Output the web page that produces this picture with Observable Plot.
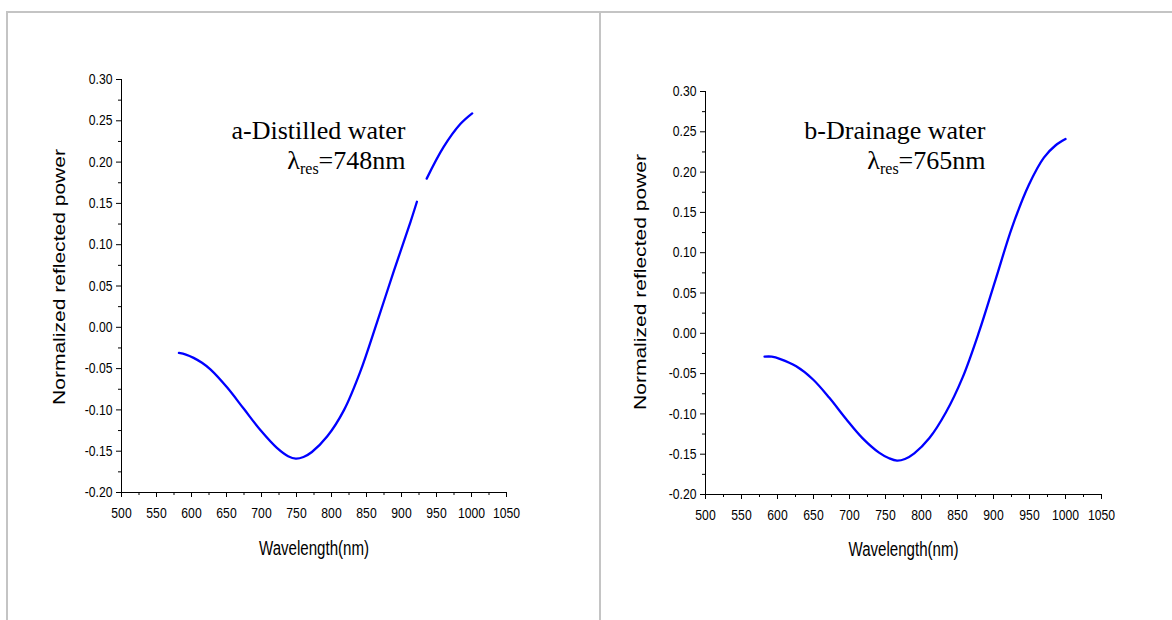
<!DOCTYPE html>
<html>
<head>
<meta charset="utf-8">
<script src="https://cdn.jsdelivr.net/npm/d3@7"></script>
<script src="https://cdn.jsdelivr.net/npm/@observablehq/plot@0.6"></script>
<style>
html, body { margin: 0; padding: 0; background: #fff; }
#wrap { position: relative; width: 1172px; height: 620px; overflow: hidden; background: #fff; }
.panel { position: absolute; top: 0; }
.rule { position: absolute; background: #c4c4c4; z-index: 5; }
</style>
</head>
<body>
<div id="wrap">
  <div id="pa" class="panel" style="left:0px"></div>
  <div id="pb" class="panel" style="left:600px"></div>
  <div class="rule" style="left:6px; top:11px; width:1166px; height:2px;"></div>
  <div class="rule" style="left:6px; top:11px; width:2px; height:609px;"></div>
  <div class="rule" style="left:599px; top:11px; width:2px; height:609px;"></div>
</div>
<script>
// ---- data ----
const wavelengthA = [582, 592, 603, 615, 627, 651, 675, 699, 722, 738, 749, 760, 772, 794, 818, 841, 865, 889, 913, 922, 929, 936, 960, 984, 1001];
const powerA      = [-0.031, -0.033, -0.037, -0.043, -0.051, -0.073, -0.099, -0.125, -0.146, -0.156, -0.159, -0.157, -0.151, -0.132, -0.100, -0.054, 0.006, 0.068, 0.128, 0.152, null, 0.180, 0.218, 0.246, 0.259];

const wavelengthB = [582, 592, 604, 626, 649, 672, 695, 718, 741, 755, 766, 777, 790, 811, 834, 857, 880, 903, 926, 949, 970, 986, 1000];
const powerB      = [-0.029, -0.029, -0.032, -0.041, -0.057, -0.080, -0.106, -0.130, -0.148, -0.155, -0.158, -0.156, -0.149, -0.130, -0.098, -0.055, 0.002, 0.067, 0.132, 0.184, 0.218, 0.233, 0.241];

const xTicks      = [500, 550, 600, 650, 700, 750, 800, 850, 900, 950, 1000, 1050];
const xMinorTicks = [525, 575, 625, 675, 725, 775, 825, 875, 925, 975, 1025];
const yTicks      = [-0.20, -0.15, -0.10, -0.05, 0.00, 0.05, 0.10, 0.15, 0.20, 0.25, 0.30];
const yMinorTicks = [-0.175, -0.125, -0.075, -0.025, 0.025, 0.075, 0.125, 0.175, 0.225, 0.275];

const xLabel = "Wavelength(nm)";
const yLabel = "Normalized reflected power";
const sampleNames = ["a-Distilled water", "b-Drainage water"];
const resonances = [748, 765];
const lambdaSymbol = "λ";
const lambdaSub = "res";

const xDomain = [500, 1050];
const yDomain = [-0.20, 0.30];

function panel(cfg) {
  const data = cfg.xs.map((x, i) => ({x, y: cfg.ys[i]}));
  const resText = `${lambdaSymbol}${lambdaSub}=${cfg.res}nm`;
  return Plot.plot({
    width: cfg.width,
    height: 600,
    marginLeft: cfg.ml,
    marginRight: cfg.mr,
    marginTop: cfg.mt,
    marginBottom: cfg.mb,
    style: {background: "transparent", color: "#000", fontFamily: "'Liberation Sans', Arial, sans-serif", overflow: "visible"},
    x: {domain: xDomain, label: null},
    y: {domain: yDomain, label: null},
    marks: [
      Plot.axisX({ticks: xTicks, tickSize: 5, tickPadding: 10, fontSize: 14.5, tickFormat: d => String(d), label: null}),
      Plot.axisX({ticks: xMinorTicks, tickSize: 3, tickFormat: () => "", label: null}),
      Plot.axisY({ticks: yTicks, tickSize: 5, tickPadding: 4, fontSize: 14.5, tickFormat: d => d.toFixed(2), label: null}),
      Plot.axisY({ticks: yMinorTicks, tickSize: 3, tickFormat: () => "", label: null}),
      Plot.ruleY([yDomain[0]], {stroke: "#000"}),
      Plot.ruleX([xDomain[0]], {stroke: "#000"}),
      Plot.line(data, {x: "x", y: "y", stroke: "#0000ff", strokeWidth: 2.3, curve: "catmull-rom"}),
      Plot.text([xLabel], {text: d => d, frameAnchor: "bottom", lineAnchor: "middle", dy: cfg.xlDy, fontSize: 20}),
      Plot.text([yLabel], {text: d => d, frameAnchor: "left", rotate: -90, textAnchor: "middle", lineAnchor: "middle", dx: cfg.ylDx, dy: cfg.ylDy, fontSize: 16}),
      Plot.text([cfg.name], {text: d => d, frameAnchor: "top-right", textAnchor: "end", lineAnchor: "bottom", dx: cfg.aDx, dy: cfg.aDy1, fontSize: 26, fontFamily: "'Liberation Serif', 'Times New Roman', serif"}),
      Plot.text([resText], {text: d => d, frameAnchor: "top-right", textAnchor: "end", lineAnchor: "bottom", dx: cfg.aDx, dy: cfg.aDy2, fontSize: 26, fontFamily: "'Liberation Serif', 'Times New Roman', serif"})
    ]
  });
}

function finish(svg, cfg) {
  const ns = "http://www.w3.org/2000/svg";
  svg.querySelectorAll("text").forEach(t => {
    const s = t.textContent;
    const parentLabel = (t.parentNode && t.parentNode.getAttribute("aria-label")) || "";
    if (parentLabel.indexOf("tick label") >= 0) {
      const L = t.getComputedTextLength();
      if (L > 0) { t.setAttribute("textLength", (L * 0.84).toFixed(2)); t.setAttribute("lengthAdjust", "spacingAndGlyphs"); }
    } else if (s === xLabel) {
      t.setAttribute("textLength", 110); t.setAttribute("lengthAdjust", "spacingAndGlyphs");
    } else if (s === yLabel) {
      t.setAttribute("textLength", 256); t.setAttribute("lengthAdjust", "spacingAndGlyphs");
    } else if (s.startsWith(lambdaSymbol + lambdaSub)) {
      const rest = s.slice((lambdaSymbol + lambdaSub).length);
      t.textContent = "";
      t.appendChild(document.createTextNode(lambdaSymbol));
      const sub = document.createElementNS(ns, "tspan");
      sub.setAttribute("font-size", "16");
      sub.setAttribute("dy", "5");
      sub.textContent = lambdaSub;
      t.appendChild(sub);
      const r = document.createElementNS(ns, "tspan");
      r.setAttribute("dy", "-5");
      r.textContent = rest;
      t.appendChild(r);
    }
  });
}

const cfgA = {xs: wavelengthA, ys: powerA, name: sampleNames[0], res: resonances[0],
  width: 600, ml: 121, mr: 94, mt: 79, mb: 108, xlDy: 56, ylDx: -62, ylDy: -9, aDx: -101, aDy1: 59, aDy2: 89};
const cfgB = {xs: wavelengthB, ys: powerB, name: sampleNames[1], res: resonances[1],
  width: 572, ml: 105, mr: 71, mt: 91, mb: 106, xlDy: 55, ylDx: -65, ylDy: -11, aDx: -116, aDy1: 47, aDy2: 77};

const svgA = panel(cfgA);
document.getElementById("pa").appendChild(svgA);
finish(svgA, cfgA);
const svgB = panel(cfgB);
document.getElementById("pb").appendChild(svgB);
finish(svgB, cfgB);
</script>
</body>
</html>
